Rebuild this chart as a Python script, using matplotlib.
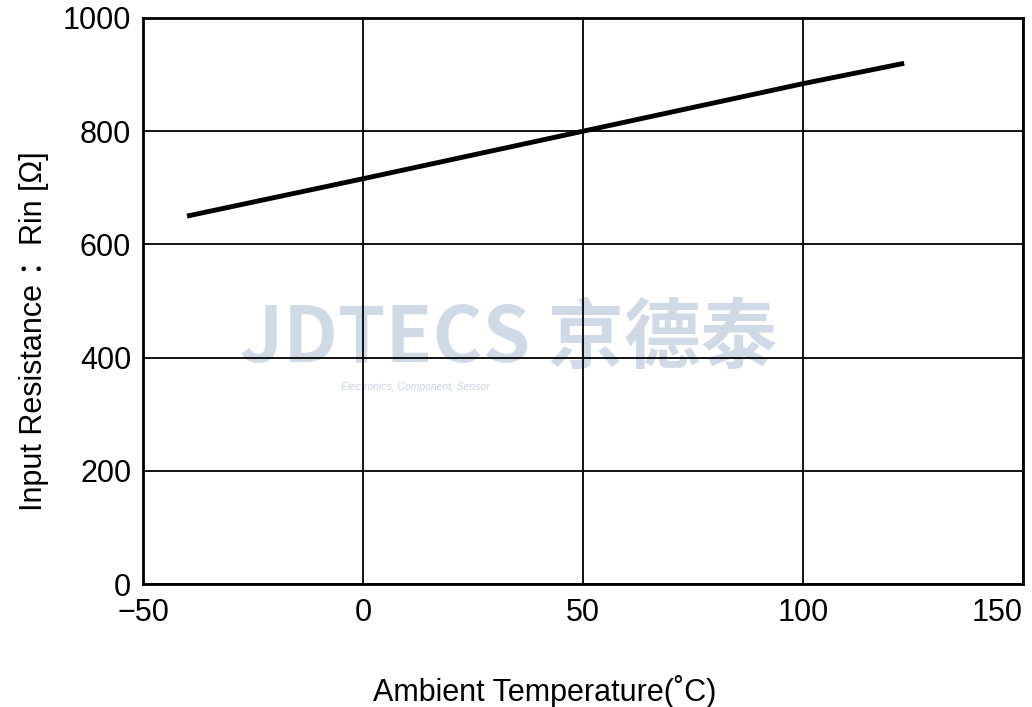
import matplotlib
matplotlib.use("Agg")
import matplotlib.pyplot as plt

temps = [-40, 0, 50, 100, 123]
rin = [650, 716, 800, 884, 920]
xticks = [-50, 0, 50, 100, 150]
yticks = [0, 200, 400, 600, 800, 1000]
xticklabels = ['\u221250', '0', '50', '100', '150']

plt.rcParams['font.family'] = ['Liberation Sans', 'DejaVu Sans']

fig = plt.figure(figsize=(10.32, 7.07), dpi=100)
ax = fig.add_axes([143/1032, 1-584/707, (1023-143)/1032, (584-18)/707])

ax.set_xlim(-50, 150)
ax.set_ylim(0, 1000)
ax.set_xticks(xticks)
ax.set_yticks(yticks)
ax.set_xticklabels(xticklabels)
ax.grid(True, color='black', linewidth=1.3)
ax.tick_params(length=0, labelsize=22)
ax.tick_params(axis='x', pad=10)
ax.tick_params(axis='y', pad=8.5)
ax.get_xticklabels()[-1].set_horizontalalignment('right')
ax.get_xticklabels()[-1].set_x(150)
for s in ax.spines.values():
    s.set_linewidth(2)

# watermark
ax.text(0.415, 0.433, 'JDTECS 京德泰', transform=ax.transAxes, fontsize=55,
        fontweight='bold', style='italic', color='#c8d3e2', alpha=0.85,
        ha='center', va='center', family=['Noto Sans CJK SC', 'DejaVu Sans'], zorder=1)
ax.text(0.31, 0.348, 'Electronics, Component, Sensor', transform=ax.transAxes,
        fontsize=7.5, style='italic', color='#c8d3e2', ha='center', va='center', zorder=1)

ax.plot(temps, rin, color='black', linewidth=3.5, solid_capstyle='butt', zorder=3)

ax.set_xlabel('Ambient Temperature(˚C)', fontsize=22, labelpad=34, x=0.456)
ax.set_ylabel('Input Resistance ：Rin [Ω]', fontsize=22, labelpad=10, y=0.447,
              family=['Liberation Sans', 'Noto Sans CJK SC'])

fig.savefig('out.png', dpi=100)
